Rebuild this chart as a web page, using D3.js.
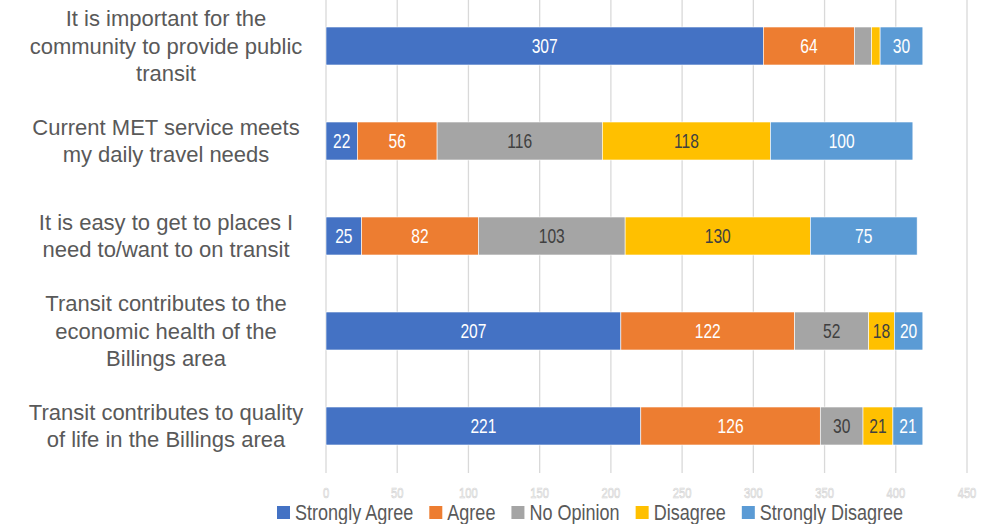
<!DOCTYPE html>
<html><head><meta charset="utf-8">
<script src="https://cdn.jsdelivr.net/npm/d3@7"></script>
<style>body{margin:0;background:#fff;} svg{display:block;}</style>
</head><body>
<svg id="c" width="1000" height="524"></svg>
<script>
const categories = [
  ["It is important for the","community to provide public","transit"],
  ["Current MET service meets","my daily travel needs"],
  ["It is easy to get to places I","need to/want to on transit"],
  ["Transit contributes to the","economic health of the","Billings area"],
  ["Transit contributes to quality","of life in the Billings area"]
];
const seriesNames = ["Strongly Agree","Agree","No Opinion","Disagree","Strongly Disagree"];
const stronglyAgree    = [307, 22, 25, 207, 221];
const agree            = [64, 56, 82, 122, 126];
const noOpinion        = [12, 116, 103, 52, 30];
const disagree         = [6, 118, 130, 18, 21];
const stronglyDisagree = [30, 100, 75, 20, 21];
// which value labels are shown: [series][category]
const showLabel = [
  [true,true,true,true,true],
  [true,true,true,true,true],
  [false,true,true,true,true],
  [false,true,true,true,true],
  [true,true,true,true,true]
];
const tickValues = [0,50,100,150,200,250,300,350,400,450];
const colors = ["#4472C4","#ED7D31","#A5A5A5","#FFC000","#5B9BD5"];
const labelColors = ["#ffffff","#ffffff","#404040","#404040","#ffffff"];

const seriesValues = [stronglyAgree, agree, noOpinion, disagree, stronglyDisagree];
const rows = categories.map((c,i)=>{
  const o = {idx:i};
  seriesNames.forEach((s,j)=>o[s]=seriesValues[j][i]);
  return o;
});
const stack = d3.stack().keys(seriesNames)(rows);

const svg = d3.select("#c");
const x = d3.scaleLinear().domain([0,450]).range([326,967]);
const y = d3.scaleBand().domain(d3.range(categories.length)).range([-1.5,473.5]).paddingInner(0.6).paddingOuter(0.3);
const FONT = "Liberation Sans, Arial, sans-serif";

// gridlines
svg.append("g").selectAll("line").data(tickValues).join("line")
  .attr("x1",d=>x(d)).attr("x2",d=>x(d)).attr("y1",0).attr("y2",473)
  .attr("stroke","#d9d9d9").attr("stroke-width",1.3);

// tick labels (white with light outline)
svg.append("g").selectAll("text").data(tickValues).join("text")
  .attr("transform",d=>`translate(${x(d)},498) scale(0.8,1)`)
  .attr("text-anchor","middle")
  .attr("font-family",FONT).attr("font-size",14)
  .attr("fill","#ffffff").attr("stroke","#d4d4d4").attr("stroke-width",0.7)
  .text(d=>d);

// bars
const gs = svg.append("g").selectAll("g").data(stack).join("g")
  .attr("fill",(d,i)=>colors[i]);
gs.selectAll("rect").data(d=>d).join("rect")
  .attr("x",d=>x(d[0])).attr("width",d=>x(d[1])-x(d[0]))
  .attr("y",d=>y(d.data.idx)).attr("height",y.bandwidth())
  .attr("stroke","#ffffff").attr("stroke-width",0.6);

// data labels
stack.forEach((s,si)=>{
  svg.append("g").selectAll("text").data(s.filter(d=>showLabel[si][d.data.idx])).join("text")
    .attr("transform",d=>`translate(${(x(d[0])+x(d[1]))/2},${y(d.data.idx)+y.bandwidth()/2+7}) scale(0.78,1)`)
    .attr("text-anchor","middle")
    .attr("font-family",FONT).attr("font-size",20)
    .attr("fill",labelColors[si])
    .text(d=>d[1]-d[0]);
});

// category labels
const lh = 27.5;
categories.forEach((lines,i)=>{
  const cy = y(i)+y.bandwidth()/2;
  const t = svg.append("text").attr("text-anchor","middle")
    .attr("font-family",FONT).attr("font-size",22)
    .attr("fill","#595959");
  lines.forEach((l,k)=>{
    t.append("tspan").attr("x",166)
      .attr("y",cy + (k-(lines.length-1)/2)*lh + 7.5).text(l);
  });
});

// legend
const lg = svg.append("g");
let lx = 277;
seriesNames.forEach((s,i)=>{
  lg.append("rect").attr("x",lx).attr("y",506).attr("width",13).attr("height",13).attr("fill",colors[i]);
  const t = lg.append("text").attr("transform",`translate(${lx+18},520) scale(0.82,1)`)
    .attr("font-family",FONT).attr("font-size",22)
    .attr("fill","#595959").text(s);
  const w = t.node().getComputedTextLength()*0.82;
  lx += 18 + w + 16;
});
</script>
</body></html>
